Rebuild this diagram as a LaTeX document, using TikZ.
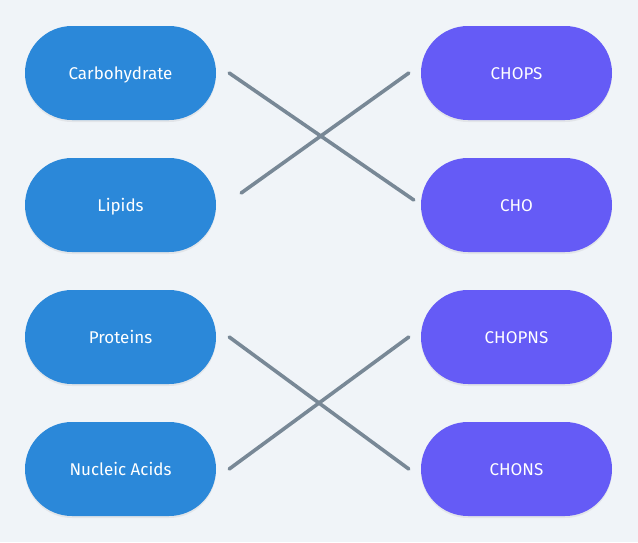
\documentclass[tikz,border=0pt]{standalone}
\usepackage{fontspec}
\setmainfont{Fira Sans}
\usetikzlibrary{calc,shadows}
\definecolor{bgc}{HTML}{F0F4F8}
\definecolor{leftc}{HTML}{2B88D9}
\definecolor{rightc}{HTML}{655BF6}
\definecolor{linec}{HTML}{788896}
\tikzset{
  pill/.style={rounded corners=47pt, minimum width=191pt, minimum height=94pt,
    text=white, font=\fontsize{17pt}{20pt}\selectfont, inner sep=0pt,
    text height=14pt, text depth=1.5pt,
    drop shadow={opacity=0.12, shadow xshift=0pt, shadow yshift=-2pt}},
  lpill/.style={pill, fill=leftc},
  rpill/.style={pill, fill=rightc},
  conn/.style={draw=linec, line width=3.6pt, line cap=round}
}
\begin{document}
\begin{tikzpicture}[x=1pt,y=-1pt]
\fill[bgc] (0,0) rectangle (638,542);
\useasboundingbox (0,0) rectangle (638,542);
\node[lpill] (carb) at (120.5,73) {Carbohydrate};
\node[lpill] (lip) at (120.5,205) {Lipids};
\node[lpill] (prot) at (120.5,337) {Proteins};
\node[lpill] (nuc) at (120.5,469) {Nucleic Acids};
\node[rpill] (chops) at (516.5,73) {CHOPS};
\node[rpill] (cho) at (516.5,205) {CHO};
\node[rpill] (chopns) at (516.5,337) {CHOPNS};
\node[rpill] (chons) at (516.5,469) {CHONS};
\draw[conn] ($(carb.east)+(13,0)$) -- ($(cho.west)+(-7,-5)$);
\draw[conn] ($(lip.east)+(25,-12)$) -- ($(chops.west)+(-12,0)$);
\draw[conn] ($(prot.east)+(13,0)$) -- ($(chons.west)+(-12,0)$);
\draw[conn] ($(nuc.east)+(13,0)$) -- ($(chopns.west)+(-12,0)$);
\end{tikzpicture}
\end{document}
